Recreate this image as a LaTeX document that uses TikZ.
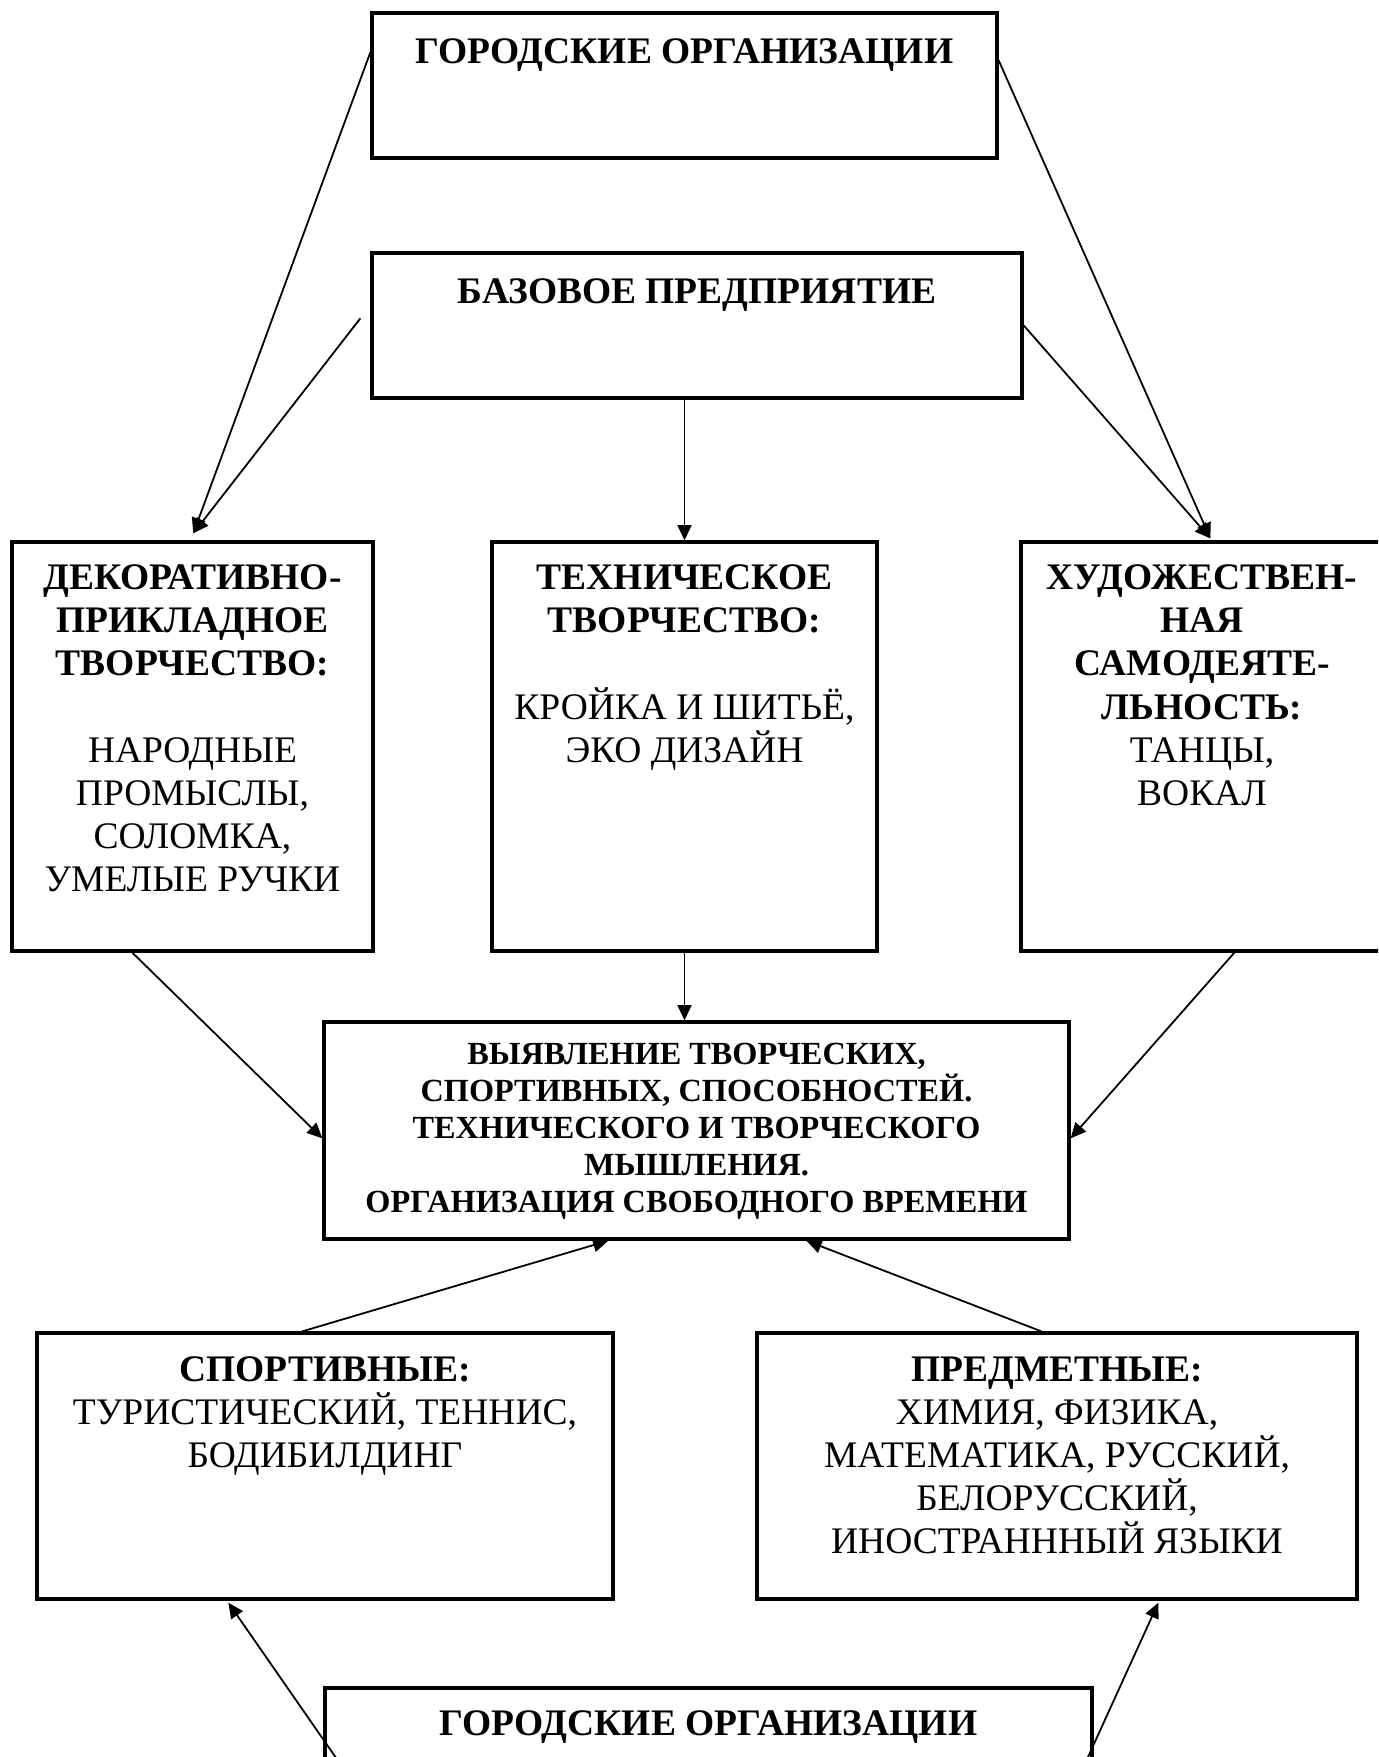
\documentclass[tikz,border=0pt]{standalone}
\usepackage{fontspec}
\setmainfont{Liberation Serif}
\usetikzlibrary{arrows.meta,calc,fit}
\begin{document}
\begin{tikzpicture}[x=0.392pt,y=-0.392pt,
  box/.style={draw, line width=1.3pt, inner sep=0pt},
  txt/.style={anchor=north, align=center, inner sep=0pt, font=\fontsize{14.7}{16.9}\selectfont},
  smalltxt/.style={anchor=north, align=center, inner sep=0pt, font=\fontsize{12.65}{14.55}\selectfont\bfseries},
  arr/.style={line width=0.7pt, -{Triangle[length=6pt,width=5.5pt]}}]
\useasboundingbox (0,0) rectangle (1378,1757);
\clip (0,0) rectangle (1378,1757);
% boxes
\node[box, fit={(372,13) (997,158)}] (top) {};
\node[box, fit={(372,253) (1022,398)}] (base) {};
\node[box, fit={(12,542) (373,951)}] (dec) {};
\node[box, fit={(492,542) (877,951)}] (tech) {};
\node[box, fit={(1021,542) (1383,951)}] (art) {};
\node[box, fit={(324,1022) (1069,1239)}] (res) {};
\node[box, fit={(37,1333) (613,1599)}] (sport) {};
\node[box, fit={(757,1333) (1357,1599)}] (subj) {};
\node[box, fit={(325,1688) (1092,1800)}] (city2) {};
% texts
\node[txt] (topt) at ($(top.north)+(0,27)$) {\textbf{ГОРОДСКИЕ ОРГАНИЗАЦИИ}};
\node[txt] (baset) at ($(base.north)+(0,27)$) {\textbf{БАЗОВОЕ ПРЕДПРИЯТИЕ}};
\node[txt] (dect) at ($(dec.north)+(0,24)$) {\textbf{ДЕКОРАТИВНО-}\\\textbf{ПРИКЛАДНОЕ}\\\textbf{ТВОРЧЕСТВО:}\\[16.9pt]НАРОДНЫЕ\\ПРОМЫСЛЫ,\\СОЛОМКА,\\УМЕЛЫЕ РУЧКИ};
\node[txt] (techt) at ($(tech.north)+(0,24)$) {\textbf{ТЕХНИЧЕСКОЕ}\\\textbf{ТВОРЧЕСТВО:}\\[16.9pt]КРОЙКА И ШИТЬЁ,\\ЭКО ДИЗАЙН};
\node[txt] (artt) at ($(art.north)+(0,24)$) {\textbf{ХУДОЖЕСТВЕН-}\\\textbf{НАЯ}\\\textbf{САМОДЕЯТЕ-}\\\textbf{ЛЬНОСТЬ:}\\ТАНЦЫ,\\ВОКАЛ};
\node[smalltxt] (rest) at ($(res.north)+(0,22)$) {ВЫЯВЛЕНИЕ ТВОРЧЕСКИХ,\\СПОРТИВНЫХ, СПОСОБНОСТЕЙ.\\ТЕХНИЧЕСКОГО И ТВОРЧЕСКОГО\\МЫШЛЕНИЯ.\\ОРГАНИЗАЦИЯ СВОБОДНОГО ВРЕМЕНИ};
\node[txt] (sportt) at ($(sport.north)+(0,25)$) {\textbf{СПОРТИВНЫЕ:}\\ТУРИСТИЧЕСКИЙ, ТЕННИС,\\БОДИБИЛДИНГ};
\node[txt] (subjt) at ($(subj.north)+(0,25)$) {\textbf{ПРЕДМЕТНЫЕ:}\\ХИМИЯ, ФИЗИКА,\\МАТЕМАТИКА, РУССКИЙ,\\БЕЛОРУССКИЙ,\\ИНОСТРАНННЫЙ ЯЗЫКИ};
\node[txt] (city2t) at ($(city2.north)+(0,24)$) {\textbf{ГОРОДСКИЕ ОРГАНИЗАЦИИ}};
% connector points
\coordinate (a1s) at ($(top.north west)+(0,41)$);
\coordinate (a2s) at ($(base.north west)+(-10,67)$);
\coordinate (dectip) at ($(dec.north west)+(183,-7)$);
\coordinate (a3s) at ($(top.north east)+(0,49)$);
\coordinate (a4s) at ($(base.north east)+(0,74)$);
\coordinate (arttip) at ($(art.north west)+(191,-2)$);
\coordinate (b1s) at ($(dec.south west)+(122,0)$);
\coordinate (b1e) at ($(res.north west)+(0,118)$);
\coordinate (b3s) at ($(art.south west)+(215,0)$);
\coordinate (b3e) at ($(res.north east)+(0,118)$);
\coordinate (c1s) at ($(sport.north west)+(267,0)$);
\coordinate (c1e) at ($(res.south west)+(286,0)$);
\coordinate (c2s) at ($(subj.north west)+(286,0)$);
\coordinate (c2e) at ($(res.south west)+(484,0)$);
\coordinate (d1s) at ($(city2.north west)+(20,82)$);
\coordinate (d1e) at ($(sport.south west)+(193,2)$);
\coordinate (d2s) at ($(city2.north east)+(-9,78)$);
\coordinate (d2e) at ($(subj.south west)+(403,2)$);
% connectors
\draw[arr] (a1s) -- (dectip);
\draw[arr] (a2s) -- (dectip);
\draw[arr] (a3s) -- (arttip);
\draw[arr] (a4s) -- (arttip);
\draw[arr] (base.south -| tech.north) -- (tech.north);
\draw[arr] (b1s) -- (b1e);
\draw[arr] (tech.south) -- (tech.south |- res.north);
\draw[arr] (b3s) -- (b3e);
\draw[arr] (c1s) -- (c1e);
\draw[arr] (c2s) -- (c2e);
\draw[arr] (d1s) -- (d1e);
\draw[arr] (d2s) -- (d2e);
\end{tikzpicture}
\end{document}
